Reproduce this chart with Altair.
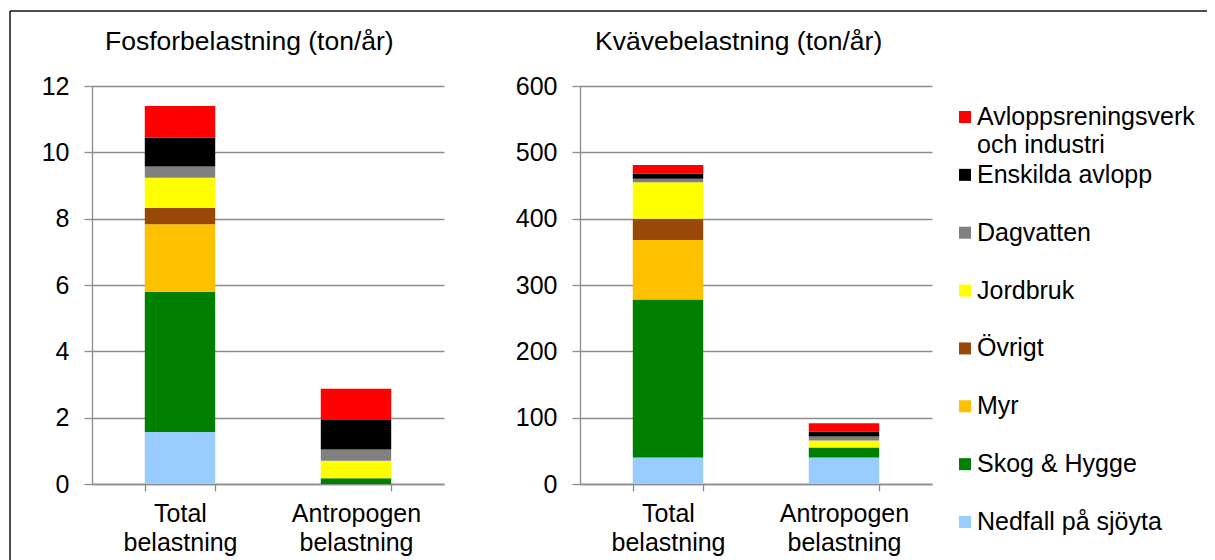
import altair as alt
import pandas as pd

categories = ["Total belastning", "Antropogen belastning"]
sources = ["Nedfall på sjöyta", "Skog & Hygge", "Myr", "Övrigt", "Jordbruk",
           "Dagvatten", "Enskilda avlopp", "Avloppsreningsverk och industri"]
legend_labels = ["Nedfall på sjöyta", "Skog & Hygge", "Myr", "Övrigt", "Jordbruk",
                 "Dagvatten", "Enskilda avlopp", "Avloppsreningsverk\noch industri"]
colors = ["#99CCFF", "#008000", "#FFC000", "#984807", "#FFFF00",
          "#808080", "#000000", "#FF0000"]

fosfor_total = [1.57, 4.23, 2.03, 0.50, 0.90, 0.34, 0.88, 0.95]
fosfor_antropogen = [0.0, 0.17, 0.0, 0.0, 0.53, 0.34, 0.89, 0.94]
kvave_total = [40, 238, 90, 32, 55, 5, 8, 13]
kvave_antropogen = [40, 15, 0, 0, 10.5, 6, 7.5, 12.5]

fosfor_ticks = [0, 2, 4, 6, 8, 10, 12]
kvave_ticks = [0, 100, 200, 300, 400, 500, 600]

FONT = "Liberation Sans"
GRID = "#8c8c8c"


def long_df(total, antro):
    rows = []
    for i, s in enumerate(sources):
        rows.append({"kategori": categories[0], "källa": s, "ordning": i, "värde": total[i]})
        rows.append({"kategori": categories[1], "källa": s, "ordning": i, "värde": antro[i]})
    return pd.DataFrame(rows)


color_enc = alt.Color("källa:N", scale=alt.Scale(domain=sources, range=colors), legend=None)


def panel(df, title, ticks, dx):
    return alt.Chart(
        df,
        title=alt.Title(title, anchor="start", frame="group", dx=dx, fontSize=26.5, font=FONT,
                        fontWeight="normal", color="black", offset=19),
    ).mark_bar().encode(
        x=alt.X("kategori:N", sort=categories,
                scale=alt.Scale(paddingInner=0.6, paddingOuter=0.3),
                axis=alt.Axis(title=None, labelAngle=0, labelExpr="split(datum.label, ' ')",
                              tickBand="extent", tickSize=7, labelPadding=10,
                              labelLineHeight=29, labelBaseline="top", grid=False)),
        y=alt.Y("värde:Q", stack="zero",
                scale=alt.Scale(domain=[ticks[0], ticks[-1]], nice=False),
                axis=alt.Axis(title=None, values=ticks, tickSize=8, labelPadding=15, grid=True)),
        color=color_enc,
        order=alt.Order("ordning:Q", sort="ascending"),
    ).properties(width=352, height=398)


left = panel(long_df(fosfor_total, fosfor_antropogen), "Fosforbelastning (ton/år)", fosfor_ticks, 13)
right = panel(long_df(kvave_total, kvave_antropogen), "Kvävebelastning (ton/år)", kvave_ticks, 15)

# legend panel (placed 136 px right of the right plot, so its origin is at page x 1067)
leg_df = pd.DataFrame({"källa": sources, "etikett": legend_labels})
ypos = alt.Y("källa:N", sort=sources[::-1],
             scale=alt.Scale(type="point", range=[31, 436], padding=0), axis=None)
squares = alt.Chart(leg_df).mark_square(size=144, opacity=1).encode(
    x=alt.value(-103), y=ypos, color=color_enc)
texts = alt.Chart(leg_df).mark_text(
    align="left", baseline="top", dy=-12, fontSize=25, font=FONT,
    lineBreak="\n", lineHeight=28, color="black").encode(
    x=alt.value(-91), y=ypos, text="etikett:N")

frame_df = pd.DataFrame({"k": [0]})
top_rule = alt.Chart(frame_df).mark_rule(color="#111111", strokeWidth=1.5).encode(
    x=alt.value(-1058), x2=alt.value(160), y=alt.value(-75))
left_rule = alt.Chart(frame_df).mark_rule(color="#111111", strokeWidth=1.5).encode(
    x=alt.value(-1058), y=alt.value(-75), y2=alt.value(480))

legend = alt.layer(squares, texts, top_rule, left_rule).properties(width=10, height=398)

chart = alt.hconcat(left, right, legend, spacing=136, bounds="flush").resolve_scale(
    x="independent", y="independent"
).properties(
    autosize=alt.AutoSizeParams(type="none"),
    padding={"left": 84, "top": 78, "right": 1115, "bottom": 466},
).configure_view(stroke=None).configure_axis(
    labelFont=FONT, labelFontSize=25, labelColor="black",
    domainColor=GRID, tickColor=GRID, gridColor=GRID,
    domainWidth=1.3, tickWidth=1.3, gridWidth=1.3,
)

chart.save("out.html", embed_options={"renderer": "svg", "actions": False})
